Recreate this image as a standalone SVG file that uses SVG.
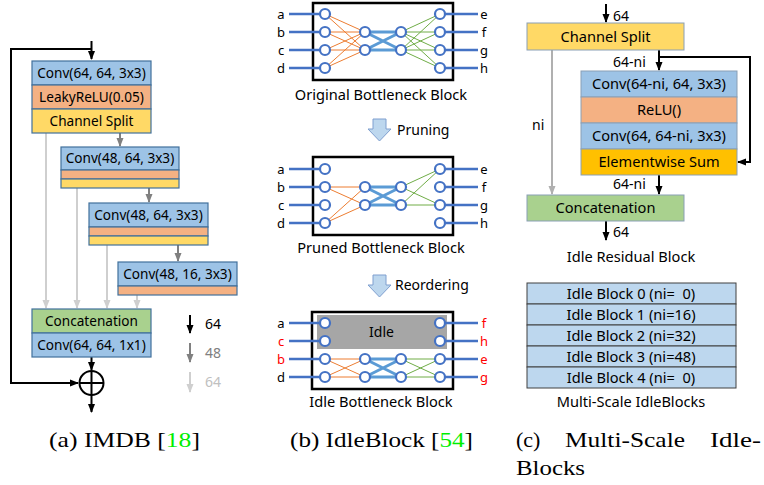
<svg xmlns="http://www.w3.org/2000/svg" width="764" height="485" viewBox="0 0 764 485">
<style>
text{font-family:"Noto Sans","Open Sans","DejaVu Sans",sans-serif;fill:#000}
.t{font-size:13.6px;text-anchor:middle}
.tc{font-size:14.6px;text-anchor:middle}
.lab{font-size:14px}
.letter{font-size:13px;text-anchor:middle}
.red{fill:#ff0000}
.cap{font-family:"Liberation Serif","DejaVu Serif",serif;font-size:22px}
.g{fill:#00ee00}
.blue{fill:#9dc3e6}
.orange{fill:#f4b183}
.yellow{fill:#ffd966}
.green{fill:#a9d18e}
.sum{fill:#ffc000}
.bx{stroke:#41719c;stroke-width:1.2}
.bxc{stroke:#8a9fb5;stroke-width:1}
.blk{stroke:#000;stroke-width:2;fill:none}
.gry{stroke:#808080;stroke-width:2;fill:none}
.lgt{stroke:#cfcfcf;stroke-width:2;fill:none}
.lgc{stroke:#b0b0b0;stroke-width:2;fill:none}
.frame{fill:#fff;stroke:#000;stroke-width:2.5}
.io{stroke:#4472c4;stroke-width:2.5}
.or{stroke:#ed7d31;stroke-width:1}
.gr{stroke:#70ad47;stroke-width:1}
.mid{stroke:#5b9bd5;stroke-width:3}
.nd{fill:#fff;stroke:#4472c4;stroke-width:2.2}
.tbl{fill:#bdd7ee;stroke:#404040;stroke-width:1}
.darr{fill:#bdd7ee;stroke:#7f9fcf;stroke-width:1}
</style>
<defs>
<marker id="mb" markerUnits="userSpaceOnUse" markerWidth="9" markerHeight="8" refX="8" refY="4" orient="auto"><path d="M0,0.5 L9,4 L0,7.5 z" fill="#000"/></marker>
<marker id="mg" markerUnits="userSpaceOnUse" markerWidth="9" markerHeight="8" refX="8" refY="4" orient="auto"><path d="M0,0.5 L9,4 L0,7.5 z" fill="#808080"/></marker>
<marker id="ml" markerUnits="userSpaceOnUse" markerWidth="9" markerHeight="8" refX="8" refY="4" orient="auto"><path d="M0,0.5 L9,4 L0,7.5 z" fill="#cfcfcf"/></marker>
<marker id="mc" markerUnits="userSpaceOnUse" markerWidth="9" markerHeight="8" refX="8" refY="4" orient="auto"><path d="M0,0.5 L9,4 L0,7.5 z" fill="#b0b0b0"/></marker>
</defs>

<!-- ===== Panel (a) ===== -->
<g id="connectors-a">
<path class="blk" d="M91.5,41 V59" marker-end="url(#mb)"/>
<path class="blk" d="M91.5,49 H11 V383 H78" marker-end="url(#mb)"/>
<path class="gry" d="M120,133 V146" marker-end="url(#mg)"/>
<path class="gry" d="M149,188 V202" marker-end="url(#mg)"/>
<path class="gry" d="M178,245 V261" marker-end="url(#mg)"/>
<path class="lgt" d="M46,133 V308" marker-end="url(#ml)"/>
<path class="lgt" d="M77,188 V308" marker-end="url(#ml)"/>
<path class="lgt" d="M107,245 V308" marker-end="url(#ml)"/>
<path class="lgt" d="M137,295 V308" marker-end="url(#ml)"/>
<path class="blk" d="M91.5,357 V370" marker-end="url(#mb)"/>
<path class="blk" d="M91.5,395 V412" marker-end="url(#mb)"/>
</g>
<g id="imdb-block1">
<rect class="blue bx" x="32" y="61" width="119" height="24"/>
<rect class="orange bx" x="32" y="85" width="119" height="24"/>
<rect class="yellow bx" x="32" y="109" width="119" height="24"/>
<text class="t" x="91.5" y="78">Conv(64, 64, 3x3)</text>
<text class="t" x="91.5" y="102">LeakyReLU(0.05)</text>
<text class="t" x="91.5" y="126">Channel Split</text>
</g>
<g id="imdb-block2">
<rect class="blue bx" x="61" y="147" width="118" height="23"/>
<rect class="orange bx" x="61" y="170" width="118" height="9"/>
<rect class="yellow bx" x="61" y="179" width="118" height="9"/>
<text class="t" x="120" y="163">Conv(48, 64, 3x3)</text>
</g>
<g id="imdb-block3">
<rect class="blue bx" x="89" y="203" width="119" height="24"/>
<rect class="orange bx" x="89" y="227" width="119" height="9"/>
<rect class="yellow bx" x="89" y="236" width="119" height="9"/>
<text class="t" x="148.5" y="220">Conv(48, 64, 3x3)</text>
</g>
<g id="imdb-block4">
<rect class="blue bx" x="118" y="262" width="119" height="24"/>
<rect class="orange bx" x="118" y="286" width="119" height="9"/>
<text class="t" x="177.5" y="279">Conv(48, 16, 3x3)</text>
</g>
<g id="imdb-concat">
<rect class="green bx" x="32" y="309" width="119" height="24"/>
<rect class="blue bx" x="32" y="333" width="119" height="24"/>
<text class="t" x="91.5" y="326">Concatenation</text>
<text class="t" x="91.5" y="350">Conv(64, 64, 1x1)</text>
</g>
<g id="imdb-sum">
<circle cx="91.5" cy="383" r="12" fill="#fff" stroke="#000" stroke-width="2"/>
<path d="M79.5,383 H103.5 M91.5,371 V395" stroke="#000" stroke-width="2"/>
</g>
<g id="legend-a">
<path class="blk" d="M190,315 V333" marker-end="url(#mb)"/>
<path class="gry" d="M190,343 V362" marker-end="url(#mg)"/>
<path class="lgt" d="M190,372 V392" marker-end="url(#ml)"/>
<text class="lab" x="205" y="329">64</text>
<text class="lab" x="205" y="358" style="fill:#808080">48</text>
<text class="lab" x="205" y="387" style="fill:#c0c0c0">64</text>
</g>

<!-- ===== Panel (b) ===== -->
<g id="original-block">
<rect class="frame" x="313" y="3" width="140" height="77"/>
<path class="io" d="M289,14 H325 M289,32 H325 M289,50 H325 M289,68 H325 M440,14 H478 M440,32 H478 M440,50 H478 M440,68 H478"/>
<path class="or" d="M325,14 L365,32 M325,14 L365,50 M325,32 L365,32 M325,32 L365,50 M325,50 L365,32 M325,50 L365,50 M325,68 L365,32 M325,68 L365,50"/>
<path class="mid" d="M365,32 L401,32 M365,50 L401,50 M365,32 L401,50 M365,50 L401,32"/>
<path class="gr" d="M401,32 L440,14 M401,32 L440,32 M401,32 L440,50 M401,32 L440,68 M401,50 L440,14 M401,50 L440,32 M401,50 L440,50 M401,50 L440,68"/>
<g>
<circle class="nd" cx="325" cy="14" r="5"/><circle class="nd" cx="325" cy="32" r="5"/><circle class="nd" cx="325" cy="50" r="5"/><circle class="nd" cx="325" cy="68" r="5"/>
<circle class="nd" cx="365" cy="32" r="5"/><circle class="nd" cx="365" cy="50" r="5"/>
<circle class="nd" cx="401" cy="32" r="5"/><circle class="nd" cx="401" cy="50" r="5"/>
<circle class="nd" cx="440" cy="14" r="5"/><circle class="nd" cx="440" cy="32" r="5"/><circle class="nd" cx="440" cy="50" r="5"/><circle class="nd" cx="440" cy="68" r="5"/>
</g>
<text class="letter" x="281" y="18.5">a</text><text class="letter" x="281" y="36.5">b</text><text class="letter" x="281" y="54.5">c</text><text class="letter" x="281" y="72.5">d</text>
<text class="letter" x="484" y="18.5">e</text><text class="letter" x="484" y="36.5">f</text><text class="letter" x="484" y="54.5">g</text><text class="letter" x="484" y="72.5">h</text>
<text class="tc" x="381" y="100">Original Bottleneck Block</text>
</g>
<g id="pruning-step">
<path class="darr" d="M373,119 H386 V129 H391 L379.5,141 L368,129 H373 Z"/>
<text class="lab" x="397" y="135">Pruning</text>
</g>
<g id="pruned-block">
<rect class="frame" x="313" y="157" width="140" height="78"/>
<path class="io" d="M289,169 H325 M289,187 H325 M289,205 H325 M289,223 H325 M440,169 H478 M440,187 H478 M440,205 H478 M440,223 H478"/>
<path class="or" d="M325,187 L365,187 M325,187 L365,205 M325,223 L365,187 M325,223 L365,205"/>
<path class="mid" d="M365,187 L401,187 M365,205 L401,205 M365,187 L401,205 M365,205 L401,187"/>
<path class="gr" d="M401,187 L440,169 M401,187 L440,205 M401,205 L440,169 M401,205 L440,205"/>
<g>
<circle class="nd" cx="325" cy="169" r="5"/><circle class="nd" cx="325" cy="187" r="5"/><circle class="nd" cx="325" cy="205" r="5"/><circle class="nd" cx="325" cy="223" r="5"/>
<circle class="nd" cx="365" cy="187" r="5"/><circle class="nd" cx="365" cy="205" r="5"/>
<circle class="nd" cx="401" cy="187" r="5"/><circle class="nd" cx="401" cy="205" r="5"/>
<circle class="nd" cx="440" cy="169" r="5"/><circle class="nd" cx="440" cy="187" r="5"/><circle class="nd" cx="440" cy="205" r="5"/><circle class="nd" cx="440" cy="223" r="5"/>
</g>
<text class="letter" x="281" y="173.5">a</text><text class="letter" x="281" y="191.5">b</text><text class="letter" x="281" y="209.5">c</text><text class="letter" x="281" y="227.5">d</text>
<text class="letter" x="484" y="173.5">e</text><text class="letter" x="484" y="191.5">f</text><text class="letter" x="484" y="209.5">g</text><text class="letter" x="484" y="227.5">h</text>
<text class="tc" x="381" y="253">Pruned Bottleneck Block</text>
</g>
<g id="reordering-step">
<path class="darr" d="M373,275 H386 V285 H391 L379.5,297 L368,285 H373 Z"/>
<text class="lab" x="395" y="290">Reordering</text>
</g>
<g id="idle-block">
<rect class="frame" x="312" y="312" width="141" height="77"/>
<rect x="317" y="315" width="130" height="34" fill="#a6a6a6"/>
<text class="lab" x="381.5" y="337" text-anchor="middle">Idle</text>
<path class="io" d="M289,323 H325 M289,341 H325 M289,359 H325 M289,377 H325 M440,323 H478 M440,341 H478 M440,359 H478 M440,377 H478"/>
<path class="or" d="M325,359 L365,359 M325,359 L365,377 M325,377 L365,359 M325,377 L365,377"/>
<path class="mid" d="M365,359 L401,359 M365,377 L401,377 M365,359 L401,377 M365,377 L401,359"/>
<path class="gr" d="M401,359 L440,359 M401,359 L440,377 M401,377 L440,359 M401,377 L440,377"/>
<g>
<circle class="nd" cx="325" cy="323" r="5"/><circle class="nd" cx="325" cy="341" r="5"/><circle class="nd" cx="325" cy="359" r="5"/><circle class="nd" cx="325" cy="377" r="5"/>
<circle class="nd" cx="365" cy="359" r="5"/><circle class="nd" cx="365" cy="377" r="5"/>
<circle class="nd" cx="401" cy="359" r="5"/><circle class="nd" cx="401" cy="377" r="5"/>
<circle class="nd" cx="440" cy="323" r="5"/><circle class="nd" cx="440" cy="341" r="5"/><circle class="nd" cx="440" cy="359" r="5"/><circle class="nd" cx="440" cy="377" r="5"/>
</g>
<text class="letter" x="281" y="327.5">a</text><text class="letter red" x="281" y="345.5">c</text><text class="letter red" x="281" y="363.5">b</text><text class="letter" x="281" y="381.5">d</text>
<text class="letter red" x="484" y="327.5">f</text><text class="letter red" x="484" y="345.5">h</text><text class="letter red" x="484" y="363.5">e</text><text class="letter red" x="484" y="381.5">g</text>
<text class="tc" x="381" y="407">Idle Bottleneck Block</text>
</g>

<!-- ===== Panel (c) ===== -->
<g id="connectors-c">
<path class="blk" d="M606,4 V22" marker-end="url(#mb)"/>
<path class="lgc" d="M552,50 V194" marker-end="url(#mc)"/>
<path class="blk" d="M659,50 V70" marker-end="url(#mb)"/>
<path class="blk" d="M659,57 H750 V162 H738" marker-end="url(#mb)"/>
<path class="blk" d="M659,175 V194" marker-end="url(#mb)"/>
<path class="blk" d="M606,221 V240" marker-end="url(#mb)"/>
<text class="lab" x="613" y="21">64</text>
<text class="lab" x="613" y="67">64-ni</text>
<text class="lab" x="532" y="130">ni</text>
<text class="lab" x="613" y="189">64-ni</text>
<text class="lab" x="613" y="237">64</text>
</g>
<g id="c-split">
<rect class="yellow bxc" x="527" y="23" width="157" height="27"/>
<text class="tc" x="605.5" y="42">Channel Split</text>
</g>
<g id="c-residual">
<rect class="blue bxc" x="581" y="71" width="156" height="26"/>
<rect class="orange bxc" x="581" y="97" width="156" height="26"/>
<rect class="blue bxc" x="581" y="123" width="156" height="26"/>
<rect class="sum bxc" x="581" y="149" width="156" height="26"/>
<text class="tc" x="659" y="89">Conv(64-ni, 64, 3x3)</text>
<text class="tc" x="659" y="115">ReLU()</text>
<text class="tc" x="659" y="141">Conv(64, 64-ni, 3x3)</text>
<text class="tc" x="659" y="167">Elementwise Sum</text>
</g>
<g id="c-concat">
<rect class="green bxc" x="527" y="195" width="157" height="26"/>
<text class="tc" x="605.5" y="213">Concatenation</text>
</g>
<text class="tc" x="631" y="262">Idle Residual Block</text>
<g id="c-table">
<rect class="tbl" x="527" y="283" width="209" height="21"/>
<rect class="tbl" x="527" y="304" width="209" height="21"/>
<rect class="tbl" x="527" y="325" width="209" height="21"/>
<rect class="tbl" x="527" y="346" width="209" height="21"/>
<rect class="tbl" x="527" y="367" width="209" height="21"/>
<text class="tc" x="631" y="299" xml:space="preserve">Idle Block 0 (ni=  0)</text>
<text class="tc" x="631" y="320">Idle Block 1 (ni=16)</text>
<text class="tc" x="631" y="341">Idle Block 2 (ni=32)</text>
<text class="tc" x="631" y="362">Idle Block 3 (ni=48)</text>
<text class="tc" x="631" y="383" xml:space="preserve">Idle Block 4 (ni=  0)</text>
</g>
<text class="tc" x="631" y="407">Multi-Scale IdleBlocks</text>

<!-- ===== Captions ===== -->
<g id="captions">
<text class="cap" x="49" y="447" textLength="151" lengthAdjust="spacingAndGlyphs">(a) IMDB [<tspan class="g">18</tspan>]</text>
<text class="cap" x="290" y="447" textLength="183" lengthAdjust="spacingAndGlyphs">(b) IdleBlock [<tspan class="g">54</tspan>]</text>
<text class="cap" x="516" y="447">(c)</text>
<text class="cap" x="565" y="447" textLength="120" lengthAdjust="spacingAndGlyphs">Multi-Scale</text>
<text class="cap" x="710" y="447" textLength="51" lengthAdjust="spacingAndGlyphs">Idle-</text>
<text class="cap" x="516" y="475" textLength="69" lengthAdjust="spacingAndGlyphs">Blocks</text>
</g>
</svg>
